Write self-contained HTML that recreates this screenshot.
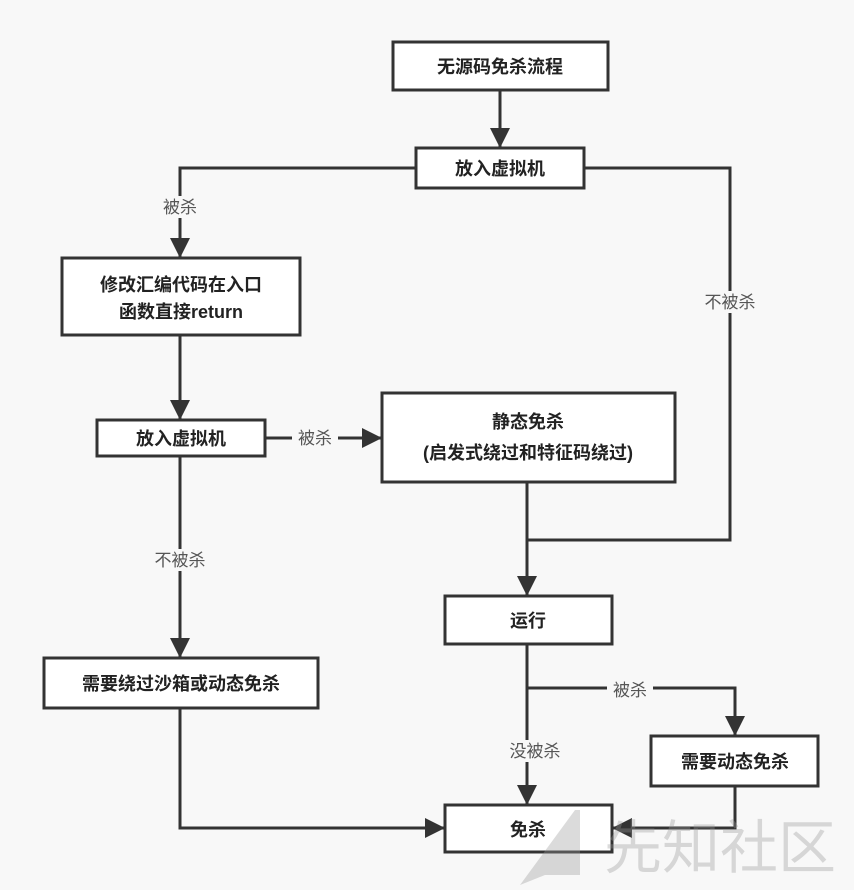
<!DOCTYPE html>
<html><head><meta charset="utf-8"><style>
html,body{margin:0;padding:0;background:#f8f8f8;}
svg{display:block}
.b{font-family:"Liberation Sans","Noto Sans CJK SC",sans-serif;font-weight:bold;font-size:18px;fill:#222;text-anchor:middle}
.l{font-family:"Liberation Sans","Noto Sans CJK SC",sans-serif;font-size:17px;fill:#555;text-anchor:middle}
</style></head><body>
<svg width="854" height="890" viewBox="0 0 854 890" xmlns="http://www.w3.org/2000/svg">
<defs><marker id="a" markerWidth="10" markerHeight="10" refX="9" refY="5" orient="auto" markerUnits="userSpaceOnUse"><path d="M0,0 L10,5 L0,10 Z" fill="#333" transform="scale(1)"/></marker>
<marker id="A" viewBox="0 0 10 10" markerWidth="20" markerHeight="20" refX="10" refY="5" orient="auto" markerUnits="userSpaceOnUse"><path d="M0,0 L10,5 L0,10 Z" fill="#333"/></marker></defs>
<rect width="854" height="890" fill="#f8f8f8"/>
<g fill="none" stroke="#333" stroke-width="3">
<line x1="500" y1="90" x2="500" y2="148" marker-end="url(#A)"/>
<polyline points="416,168 180,168 180,258" marker-end="url(#A)"/>
<polyline points="584,168 730,168 730,540 527,540"/>
<line x1="180" y1="335" x2="180" y2="420" marker-end="url(#A)"/>
<line x1="265" y1="438" x2="382" y2="438" marker-end="url(#A)"/>
<line x1="527" y1="482" x2="527" y2="596" marker-end="url(#A)"/>
<line x1="180" y1="456" x2="180" y2="658" marker-end="url(#A)"/>
<line x1="527" y1="644" x2="527" y2="805" marker-end="url(#A)"/>
<polyline points="527,688 735,688 735,736" marker-end="url(#A)"/>
<polyline points="735,786 735,828 612,828" marker-end="url(#A)"/>
<polyline points="180,708 180,828 445,828" marker-end="url(#A)"/>
</g>
<g fill="#fff" stroke="#333" stroke-width="3">
<rect x="393" y="42" width="215" height="48"/>
<rect x="416" y="148" width="168" height="40"/>
<rect x="62" y="258" width="238" height="77"/>
<rect x="97" y="420" width="168" height="36"/>
<rect x="382" y="393" width="293" height="89"/>
<rect x="445" y="596" width="167" height="48"/>
<rect x="44" y="658" width="274" height="50"/>
<rect x="651" y="736" width="167" height="50"/>
<rect x="445" y="805" width="167" height="47"/>
</g>
<text class="b" x="500" y="73">无源码免杀流程</text>
<text class="b" x="500" y="175">放入虚拟机</text>
<text class="b" x="181" y="291">修改汇编代码在入口</text>
<text class="b" x="181" y="318">函数直接return</text>
<text class="b" x="181" y="445">放入虚拟机</text>
<text class="b" x="528" y="428">静态免杀</text>
<text class="b" x="528" y="459">(启发式绕过和特征码绕过)</text>
<text class="b" x="528" y="627">运行</text>
<text class="b" x="181" y="690">需要绕过沙箱或动态免杀</text>
<text class="b" x="735" y="768">需要动态免杀</text>
<text class="b" x="528" y="836">免杀</text>
<g>
<rect x="158" y="196" width="44" height="22" fill="#f8f8f8"/><text class="l" x="180" y="213">被杀</text>
<rect x="697" y="291" width="66" height="22" fill="#f8f8f8"/><text class="l" x="730" y="308">不被杀</text>
<rect x="292" y="428" width="46" height="22" fill="#f8f8f8"/><text class="l" x="315" y="444">被杀</text>
<rect x="147" y="549" width="66" height="22" fill="#f8f8f8"/><text class="l" x="180" y="566">不被杀</text>
<rect x="607" y="679" width="46" height="22" fill="#f8f8f8"/><text class="l" x="630" y="696">被杀</text>
<rect x="502" y="740" width="66" height="22" fill="#f8f8f8"/><text class="l" x="535" y="757">没被杀</text>
</g>
<g opacity="0.35">
<polygon points="520,885 575,810 580,810 580,875 545,875" fill="#999"/>
<text x="720" y="868" font-family="'Noto Sans CJK SC',sans-serif" font-size="58" fill="#999" text-anchor="middle">先知社区</text>
</g>
</svg>
</body></html>
